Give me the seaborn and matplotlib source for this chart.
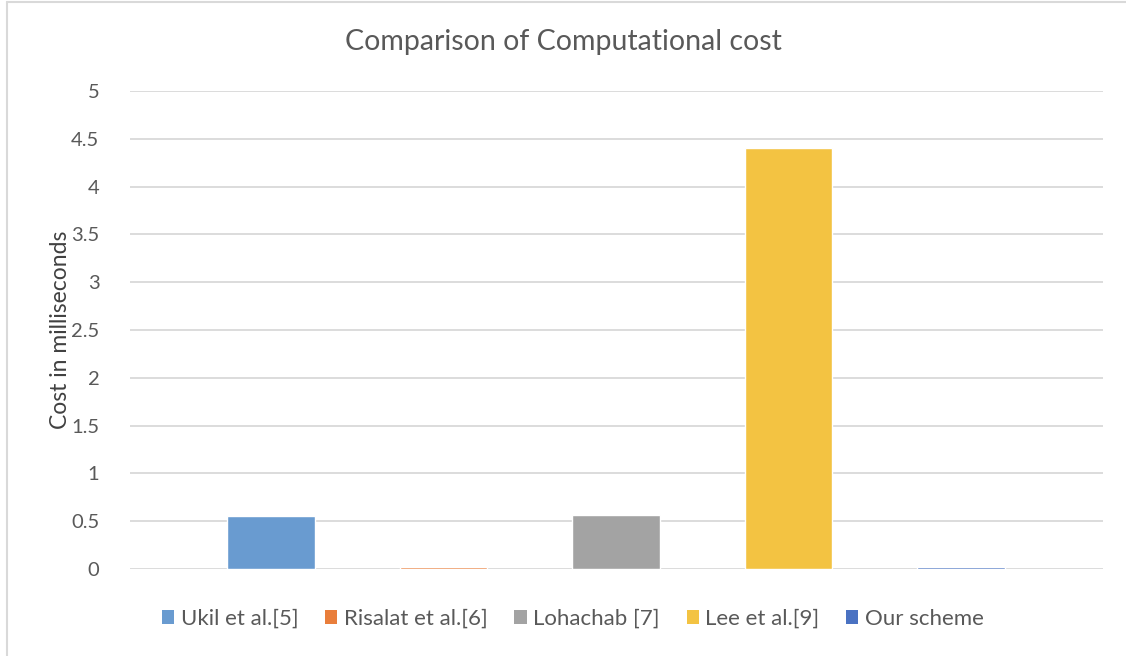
import matplotlib
matplotlib.use("Agg")
import matplotlib.pyplot as plt
from matplotlib.lines import Line2D
from matplotlib.patches import Patch
import seaborn as sns
import pandas as pd

# Computational cost (ms) of each scheme
schemes = ["Ukil et al.[5]", "Risalat et al.[6]", "Lohachab [7]", "Lee et al.[9]", "Our scheme"]
costs = [0.55, 0.025, 0.57, 4.40, 0.025]
colors = ["#699BD0", "#E97E3B", "#A3A3A3", "#F3C342", "#4A72C2"]
yticks = [0, 0.5, 1, 1.5, 2, 2.5, 3, 3.5, 4, 4.5, 5]

sns.set_theme(style="white")
plt.rcParams["font.family"] = ["Lato", "DejaVu Sans"]

df = pd.DataFrame({"scheme": schemes, "cost": costs})

fig = plt.figure(figsize=(11.26, 6.56), dpi=100)
ax = fig.add_axes([130 / 1126, 1 - 569 / 656, (1103 - 130) / 1126, (569 - 91) / 656])

sns.barplot(data=df, x="scheme", y="cost", hue="scheme", palette=colors,
            order=schemes, hue_order=schemes, width=0.505, dodge=False,
            saturation=1, legend=False, ax=ax, zorder=3)

ax.set_xlim(-0.817, 4.823)
ax.set_ylim(0, 5)
ax.set_yticks(yticks)
ax.set_yticklabels([f"{t:g}" for t in yticks])
ax.yaxis.grid(True, color="#D9D9D9", linewidth=1.3, zorder=0)
ax.set_axisbelow(True)
for s in ax.spines.values():
    s.set_visible(False)
ax.set_xticks([])
ax.set_xlabel("")
ax.tick_params(axis="y", length=0, pad=22, labelsize=14.5, labelcolor="#595959")
ax.set_ylabel("Cost in milliseconds", fontsize=16.5, color="#404040", labelpad=0)

fig.text(0.5, 1 - 42 / 656, "Comparison of Computational cost", ha="center", va="center",
         fontsize=20.5, color="#595959")

handles = [Patch(facecolor=c, edgecolor="none") for c in colors]
fig.legend(handles, schemes, loc="center", bbox_to_anchor=(573 / 1126, 1 - 619 / 656),
           ncol=5, frameon=False, fontsize=16, handlelength=0.55, handleheight=0.55,
           handletextpad=0.3, columnspacing=1.2, labelcolor="#595959")

# chart-area border along the top and left edges
fig.add_artist(Line2D([6.5 / 1126, 6.5 / 1126], [0, 1 - 1.5 / 656], transform=fig.transFigure,
                      color="#D9D9D9", linewidth=1.5))
fig.add_artist(Line2D([6.5 / 1126, 1], [1 - 1.5 / 656, 1 - 1.5 / 656], transform=fig.transFigure,
                      color="#D9D9D9", linewidth=1.5))

fig.savefig("out.png", dpi=100, facecolor="white")
